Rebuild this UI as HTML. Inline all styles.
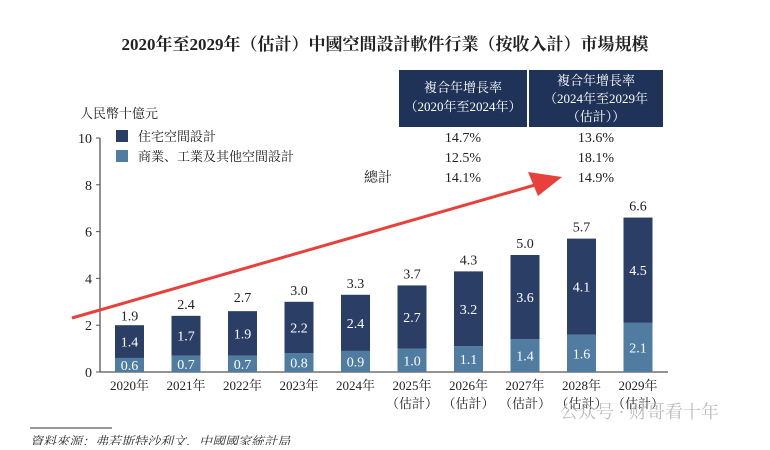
<!DOCTYPE html>
<html><head><meta charset="utf-8"><style>
body{margin:0;background:#fff;}
svg text{font-family:"Liberation Serif","Noto Serif CJK SC",serif;}
</style></head><body>
<svg width="770" height="445" viewBox="0 0 770 445">
<text x="385" y="50" text-anchor="middle" font-size="17" font-weight="bold" fill="#222">2020年至2029年（估計）中國空間設計軟件行業（按收入計）市場規模</text>
<g>
<rect x="399" y="70" width="128" height="57" fill="#1f3359"/>
<rect x="529" y="70" width="134" height="57" fill="#1f3359"/>
<text x="463" y="92" text-anchor="middle" font-size="13" fill="#fff">複合年增長率</text>
<text x="463" y="111" text-anchor="middle" font-size="13" fill="#fff">（2020年至2024年）</text>
<text x="596" y="85" text-anchor="middle" font-size="13" fill="#fff">複合年增長率</text>
<text x="596" y="103" text-anchor="middle" font-size="13" fill="#fff">（2024年至2029年</text>
<text x="596" y="121" text-anchor="middle" font-size="13" fill="#fff">（估計））</text>
<g font-size="14" fill="#222" text-anchor="middle">
<text x="463" y="142">14.7%</text><text x="596" y="142">13.6%</text>
<text x="463" y="162">12.5%</text><text x="596" y="162">18.1%</text>
<text x="463" y="182">14.1%</text><text x="596" y="182">14.9%</text>
<text x="378" y="182">總計</text>
</g></g>
<text x="80" y="118" font-size="13" fill="#222">人民幣十億元</text>
<g>
<rect x="116" y="130" width="12" height="12" fill="#2b3f66"/>
<text x="138" y="141" font-size="13" fill="#222">住宅空間設計</text>
<rect x="116" y="150" width="12" height="12" fill="#4f7ca0"/>
<text x="138" y="161" font-size="13" fill="#222">商業、工業及其他空間設計</text>
</g>
<g id="axes"></g><g id="bars"></g>
<g>
<line x1="72" y1="318" x2="535" y2="185" stroke="#e8413c" stroke-width="3"/>
<polygon points="562,177 528,172 538,196" fill="#e8413c"/>
</g>
<text x="560" y="418" font-size="18" fill="#bbb" font-family="Liberation Sans,Noto Sans CJK SC,sans-serif">公众号 · 财哥看十年</text>
<line x1="30" y1="428" x2="112" y2="428" stroke="#333" stroke-width="1"/>
<text x="30" y="446" font-size="13" font-style="italic" fill="#333">資料來源：弗若斯特沙利文、中國國家統計局</text>
</svg>
<script>
const categories=["2020年","2021年","2022年","2023年","2024年","2025年","2026年","2027年","2028年","2029年"];
const estimated=[false,false,false,false,false,true,true,true,true,true];
const commercial=[0.6,0.7,0.7,0.8,0.9,1.0,1.1,1.4,1.6,2.1];
const residential=[1.4,1.7,1.9,2.2,2.4,2.7,3.2,3.6,4.1,4.5];
const totals=[1.9,2.4,2.7,3.0,3.3,3.7,4.3,5.0,5.7,6.6];
const yTicks=[0,2,4,6,8,10];
const NS="http://www.w3.org/2000/svg";
const y=v=>372-v*23.4;
const x=i=>115+i*56.5;
const bw=29;
function mk(tag,attrs,parent,txt){const e=document.createElementNS(NS,tag);for(const k in attrs)e.setAttribute(k,attrs[k]);if(txt!==undefined)e.textContent=txt;parent.appendChild(e);return e;}
const ax=document.getElementById('axes'),bg=document.getElementById('bars');
let l=mk('line',{x1:100,y1:y(0),x2:100,y2:y(10),stroke:'#555','stroke-width':1.3},ax);


l=mk('line',{x1:100,y1:y(0),x2:668,y2:y(0),stroke:'#555','stroke-width':1.3},ax);


yTicks.forEach(t=>{mk('line',{x1:96,y1:y(t),x2:100,y2:y(t),stroke:'#555'},ax);
const tx=mk('text',{x:92,y:y(t)+5,'text-anchor':'end','font-size':14,fill:'#222'},ax,t);

});
categories.forEach((c,i)=>{
const cx=x(i)+bw/2;
const r1=mk('rect',{x:x(i),y:y(commercial[i]),width:bw,height:y(0)-y(commercial[i]),fill:'#4f7ca0'},bg);


const r2=mk('rect',{x:x(i),y:y(commercial[i]+residential[i]),width:bw,height:y(commercial[i])-y(commercial[i]+residential[i]),fill:'#2b3f66'},bg);


mk('text',{x:cx,y:(y(0)+y(commercial[i]))/2+5,'text-anchor':'middle','font-size':14,fill:'#fff'},bg,commercial[i].toFixed(1));
mk('text',{x:cx,y:(y(commercial[i])+y(commercial[i]+residential[i]))/2+5,'text-anchor':'middle','font-size':14,fill:'#fff'},bg,residential[i].toFixed(1));
const tt=mk('text',{x:cx,y:y(totals[i])-7,'text-anchor':'middle','font-size':14,fill:'#222'},bg,totals[i].toFixed(1));


const cl=mk('text',{x:cx,y:390,'text-anchor':'middle','font-size':13,fill:'#222'},bg,c);


if(estimated[i])mk('text',{x:cx,y:408,'text-anchor':'middle','font-size':13,fill:'#222'},bg,'（估計）');
});
</script>
</body></html>
